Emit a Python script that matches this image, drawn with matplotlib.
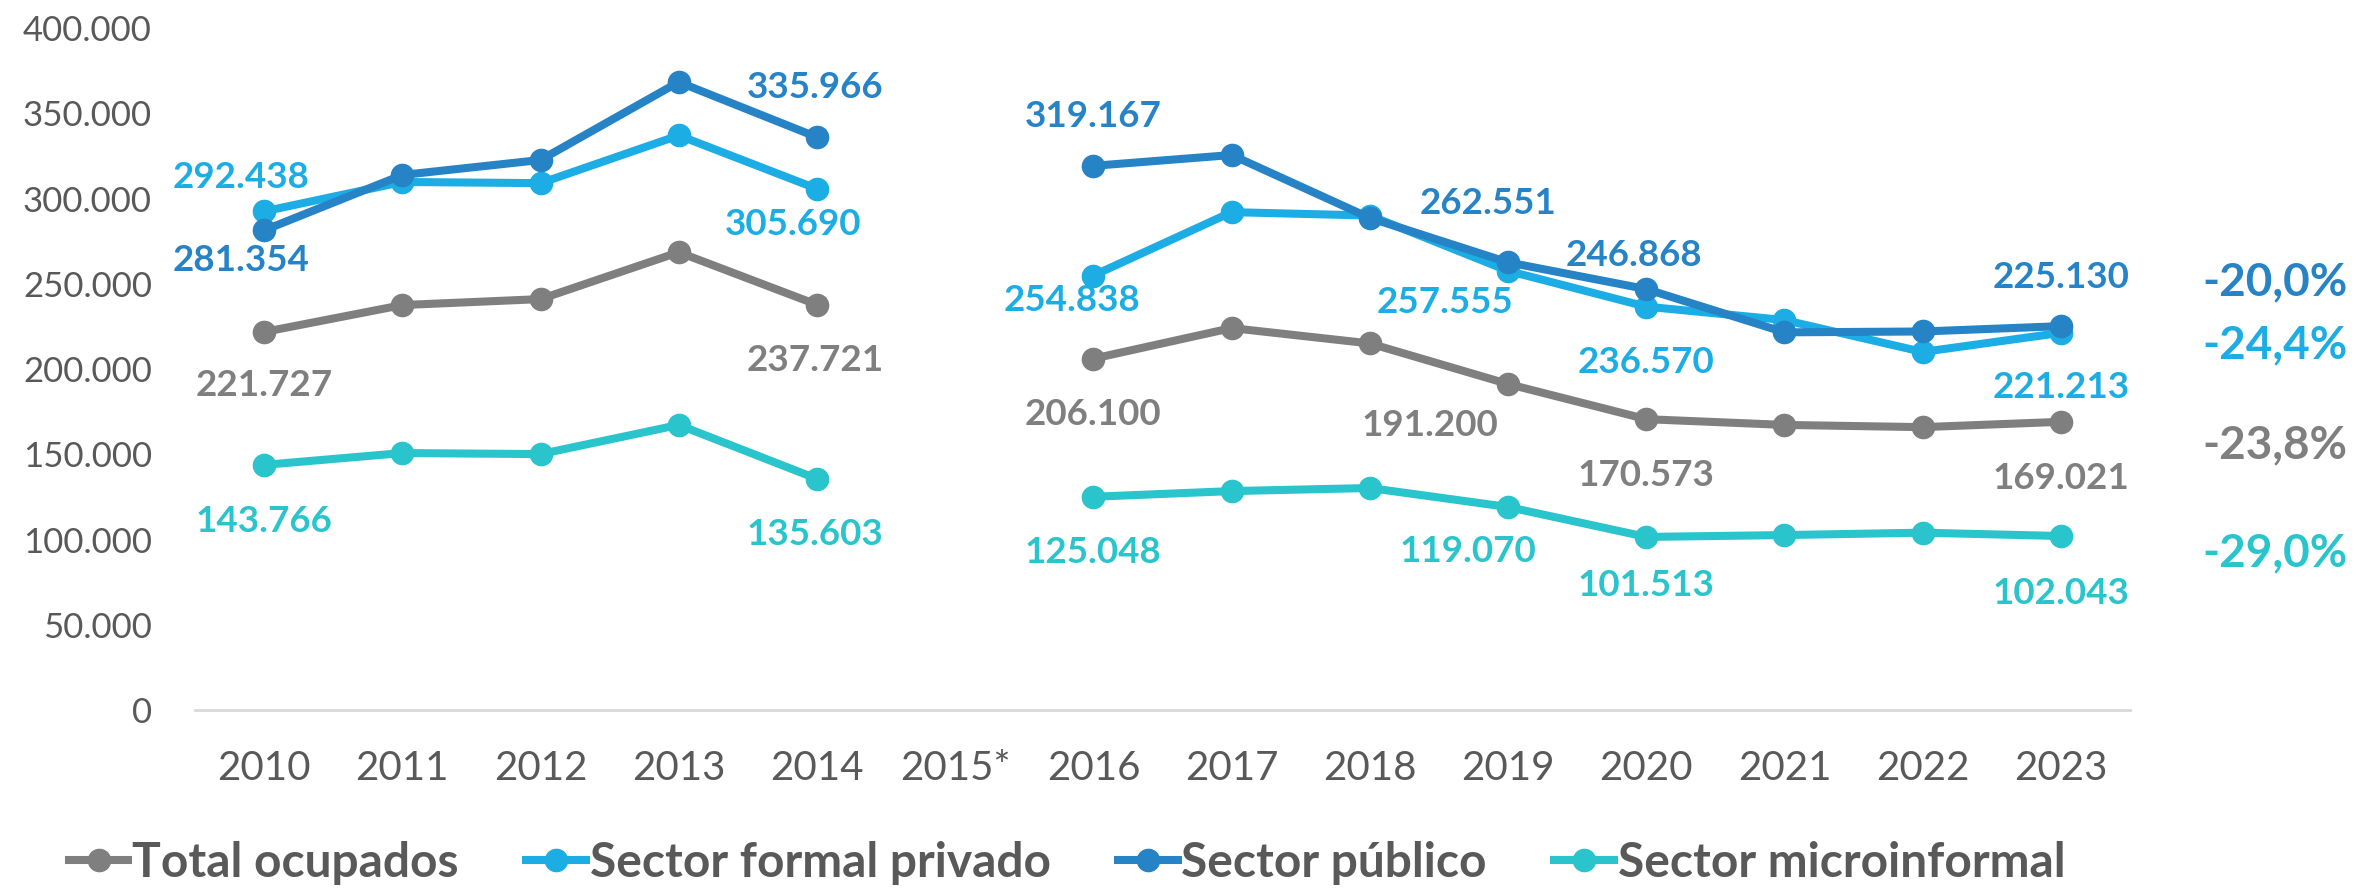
import numpy as np
import matplotlib
matplotlib.use("Agg")
import matplotlib.pyplot as plt
from matplotlib.lines import Line2D

# ---------------- data ----------------
years = ["2010", "2011", "2012", "2013", "2014", "2015*", "2016", "2017",
         "2018", "2019", "2020", "2021", "2022", "2023"]
nan = np.nan
total_ocupados = [221727, 237500, 241000, 268500, 237721, nan, 206100, 224000,
                  215000, 191200, 170573, 167200, 165900, 169021]
formal_privado = [292438, 309700, 309000, 337000, 305690, nan, 254838, 292000,
                  290000, 257555, 236570, 228700, 210000, 221213]
sector_publico = [281354, 313800, 322600, 368300, 335966, nan, 319167, 325500,
                  288600, 262551, 246868, 221500, 222000, 225130]
microinformal = [143766, 150700, 150100, 167200, 135603, nan, 125048, 128400,
                 130200, 119070, 101513, 102600, 104000, 102043]
series_names = ["Total ocupados", "Sector formal privado", "Sector público",
                "Sector microinformal"]
pct_labels = ["-23,8%", "-24,4%", "-20,0%", "-29,0%"]
yticks = [0, 50000, 100000, 150000, 200000, 250000, 300000, 350000, 400000]

# ---------------- style ----------------
plt.rcParams["font.family"] = ["Lato", "DejaVu Sans"]

colors = ["#7F7F7F", "#1CADE4", "#2683C6", "#29C4CC"]
tick_color = "#595959"

# label indices and offsets (pixels) per series
label_idx = [0, 4, 6, 9, 10, 13]
offsets = [
    [(0, -54), (-2, -56), (0, -56), (-78, -41), (0, -56), (0, -57)],
    [(-23, 34), (-24, -36), (-21, -25), (-63, -32), (0, -56), (0, -55)],
    [(-23, -30), (-2, 50), (0, 49), (-20, 59), (-12, 34), (0, 49)],
    [(0, -57), (-2, -56), (0, -56), (-40, -45), (0, -49), (0, -57)],
]
pct_y_px = [445, 345, 282, 553]

W, H = 2356, 888
fig = plt.figure(figsize=(W / 100, H / 100), dpi=100)
ax = fig.add_axes([195 / W, 1 - 710 / H, (2130 - 195) / W, (710 - 28) / H])

x = np.arange(len(years))
data = [total_ocupados, formal_privado, sector_publico, microinformal]
for vals, c, name in zip(data, colors, series_names):
    ax.plot(x, vals, color=c, lw=5.8, marker="o", ms=16, label=name,
            solid_capstyle="round", solid_joinstyle="round")

for vals, c, offs in zip(data, colors, offsets):
    for i, off in zip(label_idx, offs):
        v = vals[i]
        txt = f"{int(round(v)):,}".replace(",", ".")
        ax.annotate(txt, (x[i], v), xytext=off, textcoords="offset pixels",
                    ha="center", va="center", color=c, fontsize=26.5,
                    fontweight="bold", annotation_clip=False)

for t, c, yp in zip(pct_labels, colors, pct_y_px):
    fig.text(2275 / W, 1 - yp / H, t, ha="center", va="center", color=c,
             fontsize=33, fontweight="bold")

ax.set_xlim(-0.5, len(years) - 0.5)
ax.set_ylim(0, 400000)
ax.set_xticks(x)
ax.set_xticklabels(years)
ax.set_yticks(yticks)
ax.set_yticklabels([f"{v:,}".replace(",", ".") for v in yticks])
ax.tick_params(axis="both", length=0, colors=tick_color)
ax.tick_params(axis="x", pad=29, labelsize=29)
ax.tick_params(axis="y", pad=31, labelsize=25)
for s in ["top", "right", "left"]:
    ax.spines[s].set_visible(False)
ax.spines["bottom"].set_color("#D9D9D9")
ax.spines["bottom"].set_linewidth(2)
ax.patch.set_alpha(0)

handles = [Line2D([0], [0], color=c, lw=5.8, marker="o", ms=16) for c in colors]
leg = fig.legend(handles, series_names, loc="center", bbox_to_anchor=(1067 / W, 1 - 863 / H),
                 ncol=4, frameon=False, fontsize=34.5, handlelength=1.25,
                 handletextpad=0.08, columnspacing=1.4, borderpad=0, borderaxespad=0)
for t in leg.get_texts():
    t.set_color(tick_color)
    t.set_fontweight("bold")

fig.savefig("out.png", dpi=100)
